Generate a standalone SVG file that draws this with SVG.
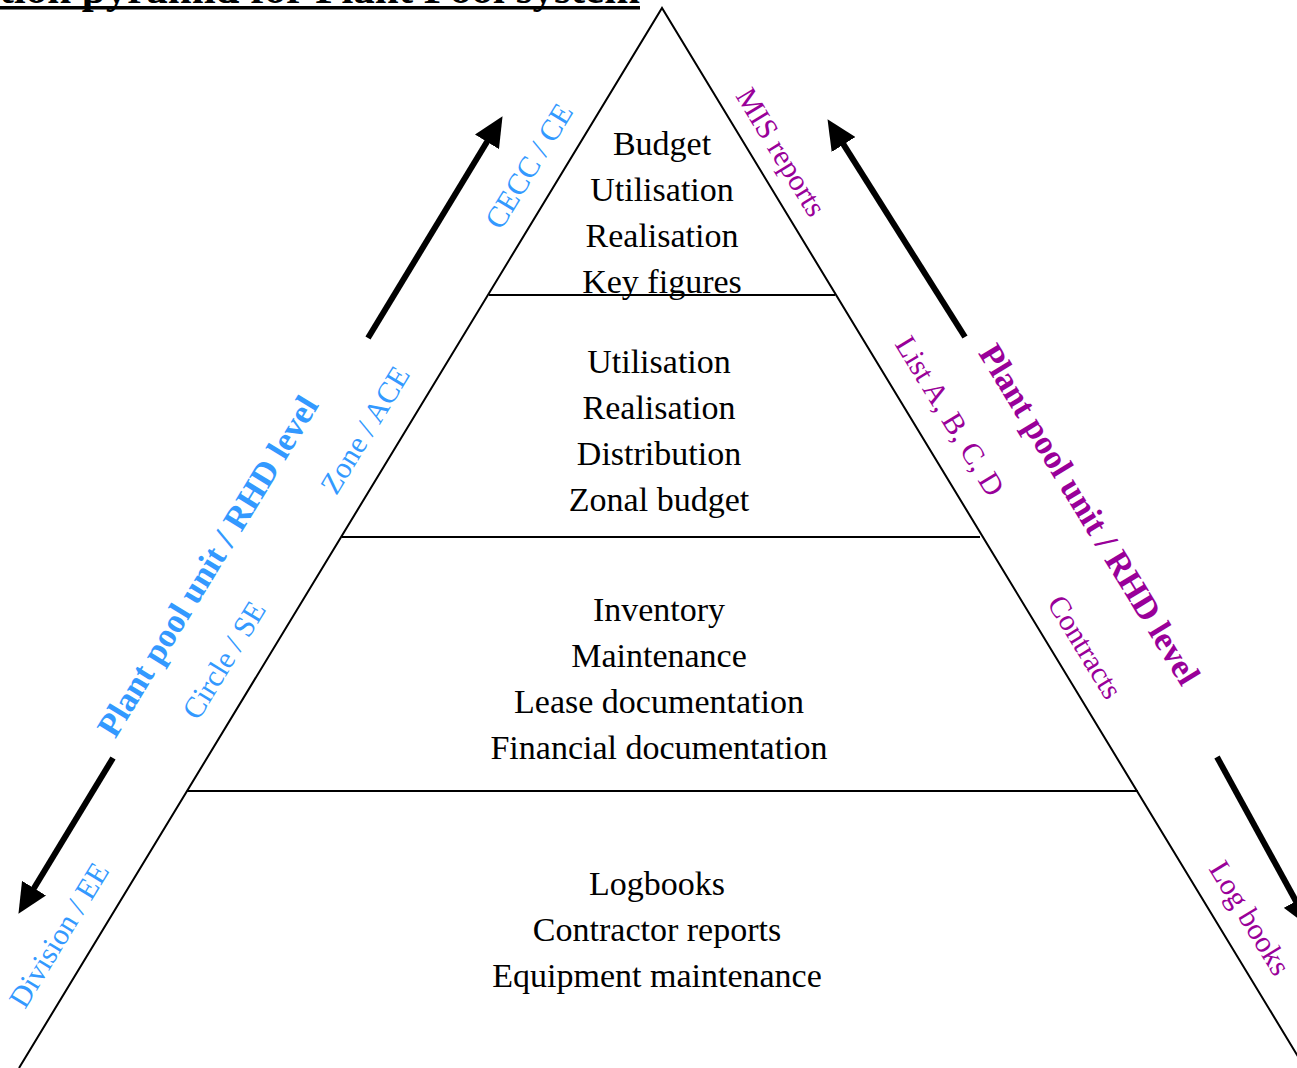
<svg xmlns="http://www.w3.org/2000/svg" width="1297" height="1068" viewBox="0 0 1297 1068">
<style>
.t{font-family:"Liberation Serif","Times New Roman",serif;font-size:34px;fill:#000;text-anchor:middle}
.b{font-family:"Liberation Serif","Times New Roman",serif;font-size:30px;fill:#3399ff;text-anchor:middle}
.p{font-family:"Liberation Serif","Times New Roman",serif;font-size:30px;fill:#990099;text-anchor:middle}
.bold{font-weight:bold;font-size:34px}
.edge{stroke:#000;stroke-width:2;fill:none}
.arr{stroke:#000;stroke-width:6;fill:none;marker-end:url(#ah)}
</style>
<defs>
<marker id="ah" markerUnits="userSpaceOnUse" markerWidth="30" markerHeight="28" refX="1" refY="14" orient="auto" viewBox="0 0 30 28">
<path d="M0,0 L30,14 L0,28 z" fill="#000"/>
</marker>
</defs>
<rect width="1297" height="1068" fill="#fff"/>
<g id="title">
<text x="640" y="3" text-anchor="end" font-family="Liberation Serif, serif" font-weight="bold" font-size="43">tion pyramid for Plant Pool system</text>
<rect x="0" y="6" width="640" height="3.5" fill="#000"/>
</g>
<g id="pyramid">
<path class="edge" d="M19,1068 L662,8 L1305,1068"/>
<line class="edge" x1="489" y1="295" x2="835" y2="295"/>
<line class="edge" x1="342" y1="537" x2="980" y2="537"/>
<line class="edge" x1="187" y1="791" x2="1138" y2="791"/>
</g>
<g id="level1">
<text class="t" x="662" y="155">Budget</text>
<text class="t" x="662" y="201">Utilisation</text>
<text class="t" x="662" y="247">Realisation</text>
<text class="t" x="662" y="293">Key figures</text>
</g>
<g id="level2">
<text class="t" x="659" y="373">Utilisation</text>
<text class="t" x="659" y="419">Realisation</text>
<text class="t" x="659" y="465">Distribution</text>
<text class="t" x="659" y="511">Zonal budget</text>
</g>
<g id="level3">
<text class="t" x="659" y="621">Inventory</text>
<text class="t" x="659" y="667">Maintenance</text>
<text class="t" x="659" y="713">Lease documentation</text>
<text class="t" x="659" y="759">Financial documentation</text>
</g>
<g id="level4">
<text class="t" x="657" y="895">Logbooks</text>
<text class="t" x="657" y="941">Contractor reports</text>
<text class="t" x="657" y="987">Equipment maintenance</text>
</g>
<g id="left-labels">
<text class="b" transform="translate(529,166) rotate(-58.6)" dy="10">CECC / CE</text>
<text class="b" transform="translate(365,430) rotate(-58.6)" dy="10">Zone / ACE</text>
<text class="b" transform="translate(224,660) rotate(-58.6)" dy="10">Circle / SE</text>
<text class="b" transform="translate(59,935) rotate(-58.6)" dy="10">Division / EE</text>
<text class="b bold" transform="translate(207,566) rotate(-58.6)" dy="12">Plant pool unit / RHD level</text>
</g>
<g id="right-labels">
<text class="p" transform="translate(781,152) rotate(58.6)" dy="10">MIS reports</text>
<text class="p" transform="translate(950,416) rotate(58.6)" dy="10">List A, B, C, D</text>
<text class="p" transform="translate(1085,647) rotate(58.6)" dy="10">Contracts</text>
<text class="p" transform="translate(1250,918) rotate(58.6)" dy="10">Log books</text>
<text class="p bold" transform="translate(1090,514) rotate(58.6)" dy="12">Plant pool unit / RHD level</text>
</g>
<g id="connectors">
<line class="arr" x1="368" y1="338" x2="487.5" y2="141"/>
<line class="arr" x1="965" y1="337" x2="843" y2="143.7"/>
<line class="arr" x1="113" y1="758" x2="33.5" y2="889"/>
<line class="arr" x1="1217" y1="757" x2="1296.4" y2="902"/>
</g>
</svg>
